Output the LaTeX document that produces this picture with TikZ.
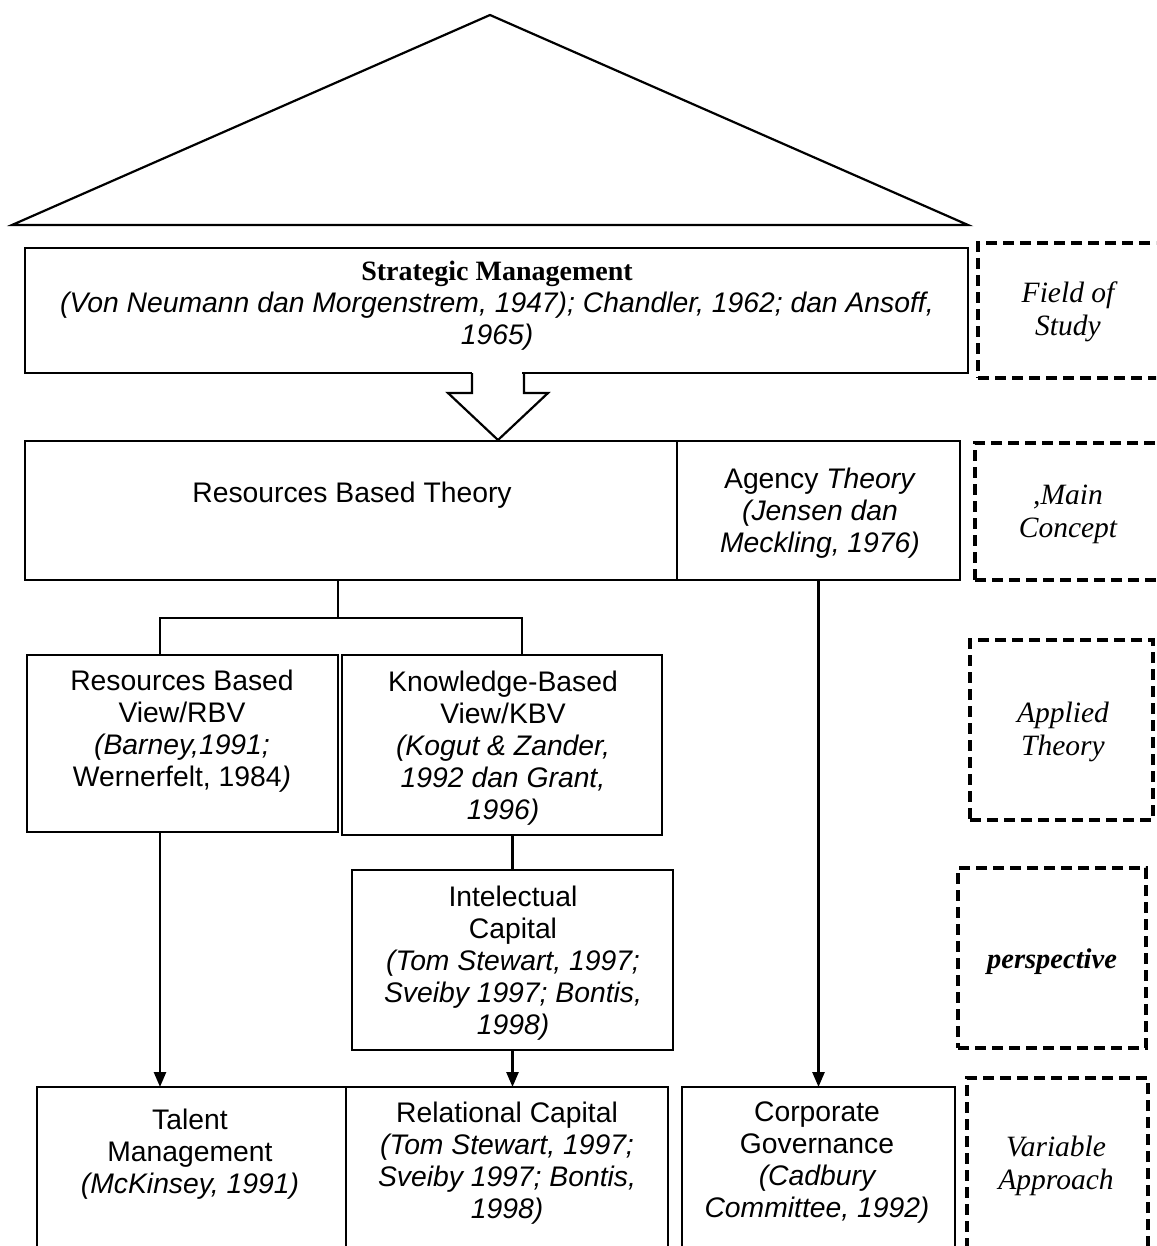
\documentclass[tikz,border=0pt]{standalone}
\usepackage{fontspec}
\setmainfont{Liberation Sans}
\newfontfamily\lserif{Liberation Serif}
\usetikzlibrary{arrows.meta,calc}

\tikzset{
  box/.style={draw, line width=2.2pt, inner sep=0pt, outer sep=0pt},
  dbox/.style={draw, line width=3.5pt, dash pattern=on 11pt off 6pt, inner sep=0pt, outer sep=0pt},
  lbl/.style={align=center, inner sep=0pt, font=\fontsize{28.3}{32}\selectfont},
  side/.style={align=center, inner sep=0pt, font=\lserif\itshape\fontsize{29.5}{33}\selectfont},
  link/.style={line width=2.6pt},
  arr/.style={line width=2.6pt, -{Triangle[length=15pt,width=12pt]}}
}

\begin{document}
\begin{tikzpicture}[x=1pt,y=-1pt]
\clip (0,0) rectangle (1156,1246);
\fill[white] (0,0) rectangle (1156,1246);

% roof
\draw[line width=2.2pt, line join=miter] (12,225) -- (490,15) -- (968,225) -- cycle;

% boxes
\node[box, minimum width=943pt, minimum height=125pt] (sm) at (496.5,310.5) {};
\node[box, minimum width=652pt, minimum height=139pt] (rbt) at (351,510.5) {};
\node[box, minimum width=283pt, minimum height=139pt] (agency) at (818.5,510.5) {};
\node[box, minimum width=311pt, minimum height=177pt] (rbv) at (182.5,743.5) {};
\node[box, minimum width=320pt, minimum height=180pt] (kbv) at (502,745) {};
\node[box, minimum width=321pt, minimum height=180pt] (ic) at (512.5,960) {};
\node[box, minimum width=309pt, minimum height=183pt] (talent) at (191.5,1178.5) {};
\node[box, minimum width=322pt, minimum height=183pt] (rc) at (507,1178.5) {};
\node[box, minimum width=273pt, minimum height=183pt] (cg) at (818.5,1178.5) {};

% level boxes
\node[dbox, minimum width=197pt, minimum height=135pt] (field) at (1076.5,310.5) {};
\node[dbox, minimum width=200pt, minimum height=137pt] (mainc) at (1075,511.5) {};
\node[dbox, minimum width=183pt, minimum height=180pt] (applied) at (1061.5,730) {};
\node[dbox, minimum width=188pt, minimum height=180pt] (persp) at (1052,958) {};
\node[dbox, minimum width=181pt, minimum height=192pt] (variable) at (1057.5,1174) {};

% block arrow from Strategic Management
\fill[white] ($(sm.south)+(-24.5,-2)$) rectangle ($(sm.south)+(25.5,4)$);
\draw[line width=2.2pt, line join=miter]
  ($(sm.south)+(-24.5,0)$) -- ++(0,20) -- ++(-24,0)
  -- ($(sm.south)+(1.5,67)$)
  -- ($(sm.south)+(51.5,20)$) -- ++(-24,0) -- ++(0,-20);

% texts
\node[lbl] (smtext) at (497,306) {{\lserif\bfseries\fontsize{28}{32}\selectfont Strategic Management}\\
  \itshape (Von Neumann dan Morgenstrem, 1947); Chandler, 1962; dan Ansoff,\\ \itshape 1965)};
\node[lbl] (rbttext) at (352,495) {Resources Based Theory};
\node[lbl] (agtext) at (820,513) {Agency \textit{Theory}\\ \itshape (Jensen dan\\ \itshape Meckling, 1976)};
\node[lbl] (rbvtext) at (182,731) {Resources Based\\ View/RBV\\ \itshape (Barney,1991;\\ Wernerfelt, 1984\textit{)}};
\node[lbl] (kbvtext) at (503,748) {Knowledge-Based\\ View/KBV\\ \itshape (Kogut \& Zander,\\ \itshape 1992 dan Grant,\\ \itshape 1996)};
\node[lbl] (ictext) at (513,963) {Intelectual\\ Capital\\ \itshape (Tom Stewart, 1997;\\ \itshape Sveiby 1997; Bontis,\\ \itshape 1998)};
\node[lbl] (talenttext) at (190,1154) {Talent\\ Management\\ \itshape (McKinsey, 1991)};
\node[lbl] (rctext) at (507,1163) {Relational Capital\\ \itshape (Tom Stewart, 1997;\\ \itshape Sveiby 1997; Bontis,\\ \itshape 1998)};
\node[lbl] (cgtext) at (817,1163) {Corporate\\ Governance\\ \itshape (Cadbury\\ \itshape Committee, 1992)};

\node[side] (fieldtext) at (1068,312) {Field of\\ Study};
\node[side] (mainctext) at (1068,514) {,Main\\ Concept};
\node[side] (appliedtext) at (1063,732) {Applied\\ Theory};
\node[side, font=\lserif\itshape\bfseries\fontsize{28.5}{33}\selectfont] (persptext) at (1052,962) {perspective};
\node[side] (variabletext) at (1056,1166) {Variable\\ Approach};

% connectors
\coordinate (split) at (338,618);
\coordinate (bl) at (160,618);
\coordinate (br) at (522,618);
\draw[link] (split |- rbt.south) -- (split);
\draw[link, line join=miter] (bl |- rbv.north) -- (bl) -- (br) -- (br |- kbv.north);
\draw[arr] (rbv.south -| bl) -- (talent.north -| bl);
\draw[link] (kbv.south -| ic.north) -- (ic.north);
\draw[arr] (ic.south) -- (ic.south |- rc.north);
\draw[arr] (agency.south) -- (agency.south |- cg.north);
\end{tikzpicture}
\end{document}
